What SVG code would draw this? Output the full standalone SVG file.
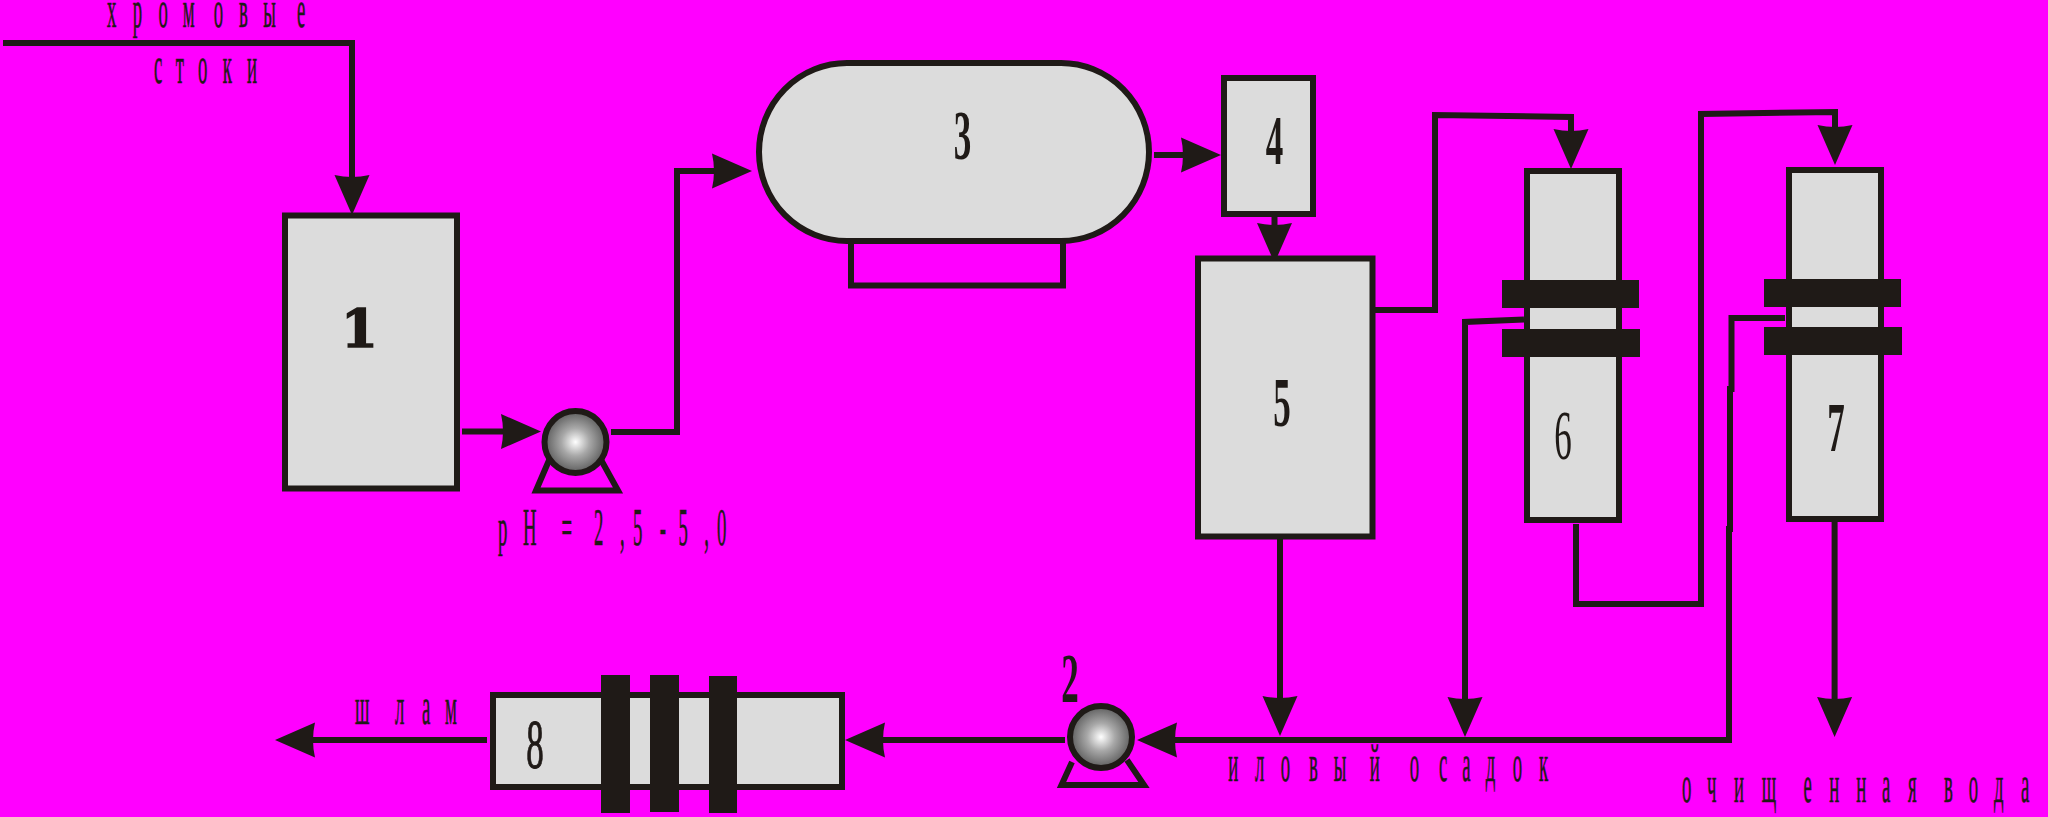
<svg xmlns="http://www.w3.org/2000/svg" width="2048" height="817" viewBox="0 0 2048 817">
<style>
.n{fill:#dcdcdc;stroke:#1f1a17;stroke-width:6}
.b{fill:#1f1a17}
.c{fill:none;stroke:#1f1a17;stroke-width:6}
.a{marker-end:url(#hv)}
.h{marker-end:url(#hh)}
.t{font-family:"Liberation Serif","Noto Sans CJK SC",serif;font-size:52px;fill:#1f1a17;stroke:#1f1a17;stroke-width:.6}
.d{font-family:"Liberation Serif",serif;font-size:70px;fill:#1f1a17;text-anchor:middle}
.bd{font-weight:bold}
.m{stroke:#1f1a17;stroke-width:1}
</style>
<defs>
<marker id="hv" markerUnits="userSpaceOnUse" markerWidth="40" markerHeight="35" refX="3" refY="17.500" orient="auto" overflow="visible"><path d="M0 0Q4 17.500 0 35L40 17.500Z" fill="#1f1a17"/></marker>
<marker id="hh" markerUnits="userSpaceOnUse" markerWidth="40" markerHeight="35" refX="3" refY="17.500" orient="auto" overflow="visible"><path d="M0 0Q4 17.500 0 35L40 17.500Z" fill="#1f1a17"/></marker>
<radialGradient id="g" cx="50%" cy="50%" r="50%"><stop offset="0" stop-color="#fff"/><stop offset=".45" stop-color="#a8a8a8"/><stop offset="1" stop-color="#5c5c5c"/></radialGradient>
</defs>
<rect width="2048" height="817" fill="#f0f"/>
<g id="connectors">
<path class="c a" d="M3 43H352V178"/>
<path class="c h" d="M462 431.500H504"/>
<path class="c h" d="M611 432H677V171H715"/>
<path class="c h" d="M1154 155H1184"/>
<path class="c a" d="M1274.500 217V226"/>
<path class="c a" d="M1375 310H1435V115L1571 117V132"/>
<path class="c a" d="M1576 524V604H1701V114L1835 112V128"/>
<path class="c a" d="M1280 539V699"/>
<path class="c a" d="M1524 319.500L1465 322V700"/>
<path class="c a" d="M1834.600 522V700"/>
<path class="c h" d="M1785 318H1731.500V389H1730V529H1729V740H1174"/>
<path class="c h" d="M1065 740H882"/>
<path class="c h" d="M487 740H312"/>
</g>
<g id="node1"><rect class="n" x="285" y="215.500" width="172" height="273"/><text x="359.500" y="347" text-anchor="middle" font-family="DejaVu Serif" font-weight="bold" font-size="53" fill="#1f1a17" stroke="#1f1a17" stroke-width="1.500">1</text></g>
<g id="pump1"><path class="c" d="M550 458L536 490.500H618L600 458"/><circle cx="575.500" cy="442" r="31" fill="url(#g)" stroke="#1f1a17" stroke-width="6"/></g>
<g id="node3"><path class="c" d="M851 241V285.500H1063V241"/><rect class="n" x="759" y="63" width="390" height="178" rx="88" ry="89"/><text class="d bd" transform="translate(962.500 159) scale(.5 1)">3</text></g>
<g id="node4"><rect class="n" x="1224" y="78" width="89" height="136"/><text class="d bd" transform="translate(1274.500 164) scale(.5 1)">4</text></g>
<g id="node5"><rect class="n" x="1198" y="258.500" width="174.500" height="278"/><text class="d bd" transform="translate(1282 426) scale(.5 1)">5</text></g>
<g id="node6"><rect class="n" x="1527" y="171" width="92" height="349"/><rect class="b" x="1502" y="280" width="137" height="28"/><rect class="b" x="1502" y="329" width="138" height="28"/><text class="d" transform="translate(1563 459) scale(.5 1)">6</text></g>
<g id="node7"><rect class="n" x="1789" y="170" width="92" height="349"/><rect class="b" x="1764" y="279" width="137" height="28"/><rect class="b" x="1764" y="327" width="138" height="28"/><text class="d bd" transform="translate(1836 451) scale(.5 1)">7</text></g>
<g id="node8"><rect class="n" x="493" y="695" width="349" height="92"/><rect class="b" x="601" y="675" width="29" height="138"/><rect class="b" x="650" y="675" width="29" height="137"/><rect class="b" x="709" y="676" width="28" height="137"/><text class="d m" transform="translate(535 768) scale(.5 1)">8</text></g>
<g id="pump2"><path class="c" d="M1072 762L1061.500 785H1144L1127 760"/><circle cx="1101" cy="737" r="31" fill="url(#g)" stroke="#1f1a17" stroke-width="6"/><text class="d bd" font-size="66" transform="translate(1070 702) scale(.5 1)">2</text></g>
<g id="labels">
<text class="t" transform="scale(.36 1)" y="27" x="297 369 440 508 594 664 731 825">хромовые</text>
<text class="t" transform="scale(.36 1)" y="83" x="428 488 550 619 686">стоки</text>
<text class="t" transform="scale(.36 1)" y="545" x="1383 1453 1500 1560 1600 1650 1722 1758 1833 1885 1956 1992">pH = 2,5-5,0</text>
<text class="t" transform="scale(.36 1)" y="724" x="986 1097 1172 1236">шлам</text>
<text class="t" transform="scale(.36 1)" y="781" x="3412 3486 3558 3636 3705 3805 3894 3916 3997 4062 4127 4202 4275">иловый осадок</text>
<text class="t" transform="scale(.36 1)" y="802" x="4672 4742 4817 4894 5010 5081 5156 5228 5300 5350 5400 5469 5539 5614">очищенная вода</text>
</g>
</svg>
